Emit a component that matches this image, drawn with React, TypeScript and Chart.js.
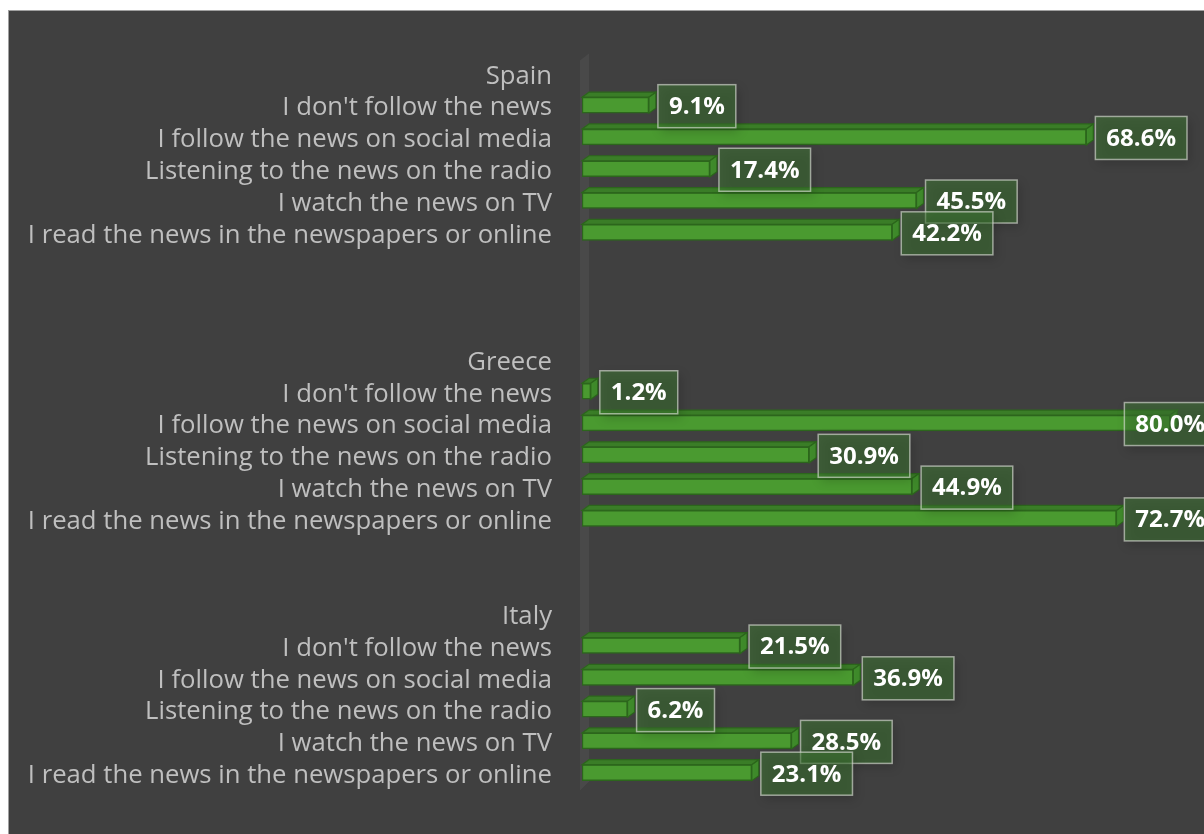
import { useEffect, useRef } from "react";
import { Chart, registerables } from "chart.js";
Chart.register(...registerables);

const countries = ["Spain", "Greece", "Italy"];
const answers = [
  "I don't follow the news",
  "I follow the news on social media",
  "Listening to the news on the radio",
  "I watch the news on TV",
  "I read the news in the newspapers or online",
];
const spainValues = [9.1, 68.6, 17.4, 45.5, 42.2];
const greeceValues = [1.2, 80.0, 30.9, 44.9, 72.7];
const italyValues = [21.5, 36.9, 6.2, 28.5, 23.1];
const blankRowsAfter = [3, 2, 0];

const groupValues = [spainValues, greeceValues, italyValues];
const rowLabels: string[] = [];
const rowValues: (number | null)[] = [];
countries.forEach((c, gi) => {
  rowLabels.push(c);
  rowValues.push(null);
  answers.forEach((a, ai) => {
    rowLabels.push(a);
    rowValues.push(groupValues[gi][ai]);
  });
  for (let k = 0; k < blankRowsAfter[gi]; k++) {
    rowLabels.push("");
    rowValues.push(null);
  }
});

const FONT = "'Open Sans', 'Noto Sans', sans-serif";
const DX = 7;
const DY = 5;

const bar3dPlugin = {
  id: "bar3d",
  beforeDatasetsDraw(chart: any) {
    const { ctx, chartArea } = chart;
    const L = chartArea.left;
    const T = chartArea.top;
    const B = chartArea.bottom;
    ctx.save();
    ctx.fillStyle = "rgba(255,255,255,0.05)";
    ctx.beginPath();
    ctx.moveTo(L - 2, T + 3);
    ctx.lineTo(L - 2 + DX + 2, T - 4);
    ctx.lineTo(L - 2 + DX + 2, B - 7);
    ctx.lineTo(L - 2, B + 2);
    ctx.closePath();
    ctx.fill();
    ctx.restore();
  },
  afterDatasetsDraw(chart: any) {
    const { ctx, chartArea } = chart;
    const meta = chart.getDatasetMeta(0);
    ctx.save();
    meta.data.forEach((bar: any, i: number) => {
      const v = rowValues[i];
      if (v == null) return;
      const { x, y, base, height } = bar.getProps(["x", "y", "base", "height"], true);
      const top = y - height / 2;
      const bottom = y + height / 2;
      ctx.lineWidth = 1.2;
      ctx.strokeStyle = "#2c661c";
      // top face
      ctx.beginPath();
      ctx.moveTo(base, top);
      ctx.lineTo(base + DX, top - DY);
      ctx.lineTo(x + DX, top - DY);
      ctx.lineTo(x, top);
      ctx.closePath();
      ctx.fillStyle = "#3a7d27";
      ctx.fill();
      ctx.stroke();
      // right face
      ctx.beginPath();
      ctx.moveTo(x, top);
      ctx.lineTo(x + DX, top - DY);
      ctx.lineTo(x + DX, bottom - DY);
      ctx.lineTo(x, bottom);
      ctx.closePath();
      ctx.fillStyle = "#3f8b2b";
      ctx.fill();
      ctx.stroke();
    });
    // data labels
    meta.data.forEach((bar: any, i: number) => {
      const v = rowValues[i];
      if (v == null) return;
      const { x, y } = bar.getProps(["x", "y"], true);
      const text = v.toFixed(1) + "%";
      ctx.font = `bold 24px ${FONT}`;
      const tw = ctx.measureText(text).width;
      const w = tw + 22;
      const h = 43;
      const bx = Math.min(x + 9, chartArea.right + 12 - w);
      const by = y + 1 - h / 2;
      ctx.save();
      ctx.shadowColor = "rgba(0,0,0,0.35)";
      ctx.shadowBlur = 10;
      ctx.shadowOffsetX = 3;
      ctx.shadowOffsetY = 4;
      ctx.fillStyle = "rgba(62,122,50,0.5)";
      ctx.fillRect(bx, by, w, h);
      ctx.restore();
      ctx.lineWidth = 1.5;
      ctx.strokeStyle = "rgba(215,220,210,0.65)";
      ctx.strokeRect(bx, by, w, h);
      ctx.fillStyle = "#ffffff";
      ctx.textAlign = "center";
      ctx.textBaseline = "middle";
      ctx.fillText(text, bx + w / 2, by + h / 2 + 1);
    });
    ctx.restore();
  },
};

export default function App() {
  const ref = useRef<HTMLCanvasElement | null>(null);
  useEffect(() => {
    let chart: Chart | null = null;
    let cancelled = false;
    const make = () => {
      if (cancelled || !ref.current) return;
      chart = new Chart(ref.current, {
        type: "bar",
        data: {
          labels: rowLabels,
          datasets: [
            {
              data: rowValues as any,
              backgroundColor: "#4a9a30",
              borderColor: "#2c661c",
              borderWidth: 1.5,
              borderSkipped: false,
              barThickness: 16,
            },
          ],
        },
        options: {
          indexAxis: "y",
          animation: false,
          responsive: false,
          maintainAspectRatio: false,
          layout: { padding: { top: 46.5, bottom: 34, left: 0, right: 0 } },
          scales: {
            x: { display: false, min: 0, max: 84.6 },
            y: {
              grid: { display: false, drawTicks: false },
              border: { display: false },
              ticks: {
                color: "#bfbfbf",
                font: { family: FONT, size: 25.7 },
                padding: 30,
                labelOffset: 3,
                autoSkip: false,
              },
              afterFit: (s: any) => {
                s.width = 573;
              },
            },
          },
          plugins: { legend: { display: false }, tooltip: { enabled: false } },
        },
        plugins: [bar3dPlugin],
      });
    };
    const fonts = (document as any).fonts;
    if (fonts && fonts.load) {
      Promise.all([
        fonts.load(`25px 'Open Sans'`),
        fonts.load(`bold 24px 'Open Sans'`),
      ])
        .catch(() => {})
        .then(make);
    } else make();
    return () => {
      cancelled = true;
      if (chart) chart.destroy();
    };
  }, []);
  return (
    <div
      style={{
        position: "fixed",
        left: 8,
        top: 10,
        right: 0,
        bottom: 0,
        overflow: "hidden",
        background: "#404040",
        borderTop: "1px solid #a0a0a0",
        borderLeft: "1px solid #a0a0a0",
      }}
    >
      <canvas ref={ref} width={1195} height={823} style={{ display: "block" }} />
    </div>
  );
}
